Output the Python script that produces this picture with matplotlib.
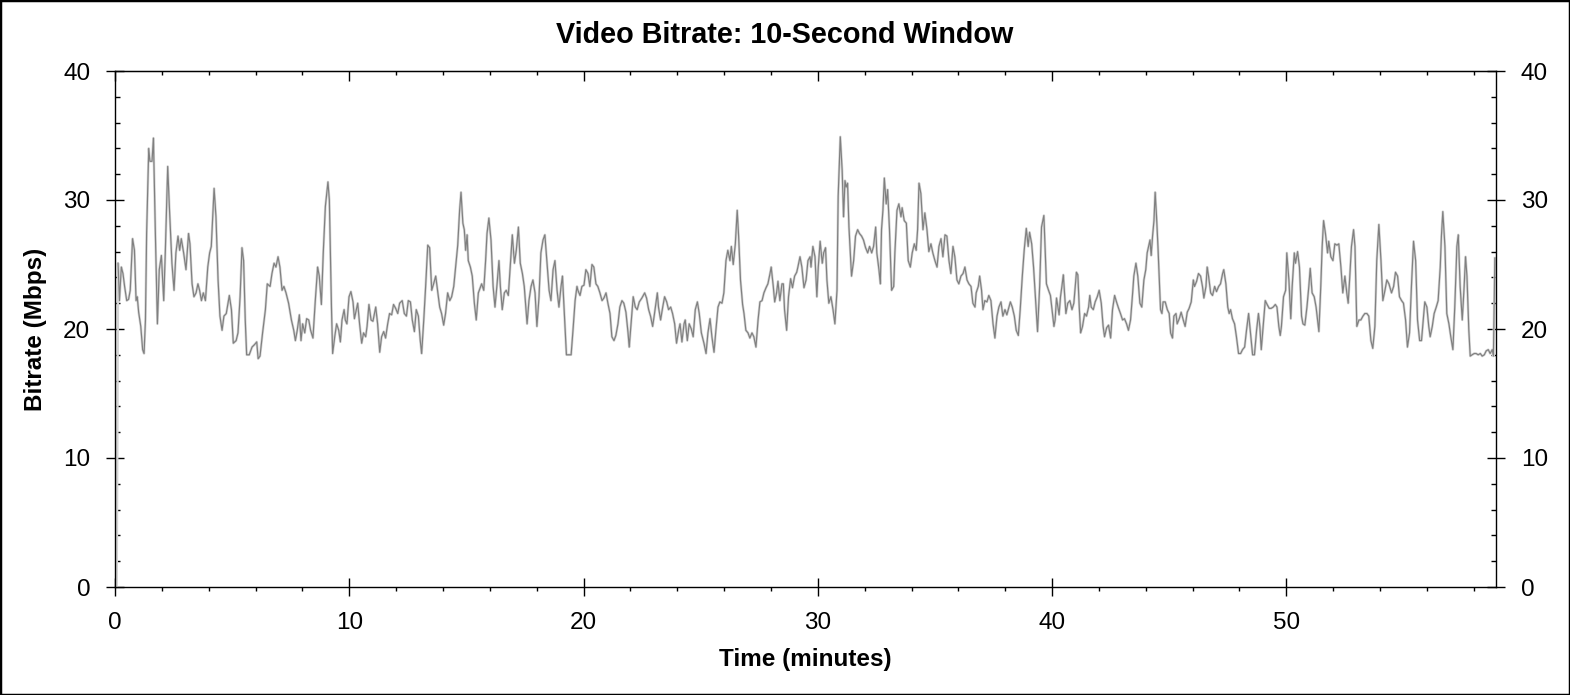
import numpy as np
import matplotlib
matplotlib.use("Agg")
import matplotlib.pyplot as plt
from matplotlib.ticker import MultipleLocator, NullFormatter
from matplotlib.patches import Rectangle

plt.rcParams['font.family'] = ['Liberation Sans', 'DejaVu Sans']

# bitrate trace in six chunks (minutes, Mbps)
min_a = [0.13, 0.19, 0.27, 0.34, 0.41, 0.50, 0.58, 0.65, 0.75, 0.83,
         0.90, 0.95, 1.01, 1.10, 1.18, 1.24, 1.30, 1.35, 1.44, 1.49,
         1.58, 1.64, 1.72, 1.81, 1.89, 1.98, 2.08, 2.15, 2.25, 2.32,
         2.43, 2.52, 2.60, 2.69, 2.76, 2.83, 2.93, 3.03, 3.14, 3.20,
         3.29, 3.37, 3.46, 3.54, 3.61, 3.69, 3.77, 3.86, 3.96, 4.04,
         4.11, 4.23, 4.31, 4.40, 4.48, 4.57, 4.65, 4.75, 4.88, 4.97,
         5.05, 5.17, 5.25, 5.34, 5.42, 5.49, 5.56, 5.62, 5.73, 5.85,
         5.96, 6.05, 6.11, 6.19, 6.30, 6.42, 6.50, 6.62, 6.70, 6.79,
         6.87, 6.96, 7.04, 7.13, 7.21, 7.30, 7.41, 7.53, 7.63, 7.70,
         7.78, 7.87, 7.94, 8.01, 8.10, 8.18, 8.27, 8.35, 8.45, 8.55,
         8.65, 8.72, 8.81, 8.89, 8.98, 9.09, 9.15, 9.24, 9.29, 9.38,
         9.46, 9.55, 9.62, 9.69, 9.78, 9.83, 9.90]
mbps_a = [25.1, 22.2, 24.8, 24.3, 23.3, 22.2, 22.3, 23.0, 27.0, 26.1,
          22.2, 22.5, 21.3, 20.2, 18.4, 18.1, 20.7, 27.4, 34.0, 33.0,
          33.0, 34.8, 27.7, 20.4, 24.6, 25.7, 22.2, 26.1, 32.6, 29.5,
          25.1, 23.0, 25.9, 27.2, 26.1, 27.0, 25.9, 24.6, 27.4, 26.6,
          23.5, 22.5, 22.8, 23.5, 23.0, 22.2, 22.8, 22.2, 24.8, 25.9,
          26.4, 30.9, 28.7, 23.8, 21.0, 19.9, 21.0, 21.2, 22.6, 21.5,
          18.9, 19.1, 19.7, 22.5, 26.3, 25.3, 20.7, 18.0, 18.0, 18.6,
          18.8, 19.0, 17.7, 17.9, 19.7, 21.5, 23.5, 23.3, 24.3, 25.1,
          24.8, 25.6, 24.8, 23.0, 23.3, 22.8, 22.0, 20.7, 19.9, 19.1,
          19.9, 21.1, 19.1, 20.4, 19.7, 20.8, 20.7, 19.9, 19.3, 22.2,
          24.8, 24.1, 21.9, 25.9, 29.5, 31.4, 30.0, 21.7, 18.1, 19.4,
          20.4, 19.9, 19.0, 20.7, 21.5, 20.7, 20.4]

min_b = [9.99, 10.07, 10.16, 10.22, 10.30, 10.36, 10.44, 10.53, 10.61, 10.70,
         10.76, 10.84, 10.93, 11.01, 11.13, 11.21, 11.30, 11.38, 11.47, 11.55,
         11.64, 11.72, 11.81, 11.89, 11.98, 12.07, 12.15, 12.26, 12.35, 12.44,
         12.52, 12.61, 12.69, 12.78, 12.86, 12.95, 13.03, 13.09, 13.18, 13.26,
         13.35, 13.43, 13.52, 13.60, 13.69, 13.77, 13.86, 13.94, 14.03, 14.11,
         14.20, 14.29, 14.37, 14.46, 14.54, 14.63, 14.71, 14.77, 14.85, 14.91,
         14.97, 15.03, 15.08, 15.17, 15.25, 15.34, 15.42, 15.51, 15.59, 15.65,
         15.74, 15.82, 15.88, 15.96, 16.05, 16.14, 16.22, 16.31, 16.39, 16.45,
         16.53, 16.62, 16.70, 16.79, 16.88, 16.96, 17.05, 17.13, 17.22, 17.30,
         17.39, 17.47, 17.59, 17.67, 17.76, 17.84, 17.93, 18.01, 18.10, 18.18,
         18.27, 18.35, 18.44, 18.53, 18.61, 18.70, 18.78, 18.87, 18.95, 19.04,
         19.10, 19.18, 19.27, 19.38, 19.47, 19.55, 19.64, 19.72]
mbps_b = [22.5, 22.9, 22.1, 20.8, 21.5, 22.0, 20.4, 18.9, 19.7, 19.4,
          20.2, 21.9, 20.7, 20.6, 21.7, 20.4, 18.2, 19.4, 19.8, 19.3,
          20.4, 21.2, 21.1, 21.9, 21.6, 21.2, 22.0, 22.2, 21.2, 21.0,
          22.2, 22.1, 20.7, 19.8, 21.5, 21.0, 19.1, 18.1, 20.7, 23.3,
          26.5, 26.3, 23.0, 23.5, 24.1, 23.0, 21.7, 21.2, 20.3, 21.2,
          22.8, 22.2, 22.5, 23.3, 24.8, 26.5, 29.2, 30.6, 28.2, 27.7,
          26.1, 27.3, 25.3, 24.8, 24.1, 22.0, 20.7, 22.8, 23.2, 23.5,
          23.0, 25.3, 27.4, 28.6, 26.9, 23.3, 21.7, 23.5, 25.3, 23.3,
          21.5, 22.8, 23.0, 22.6, 25.1, 27.3, 25.1, 26.1, 27.9, 25.1,
          24.3, 23.3, 20.4, 22.2, 23.3, 23.8, 22.8, 20.2, 22.5, 25.9,
          26.9, 27.3, 25.1, 23.0, 22.2, 24.6, 25.3, 23.0, 21.7, 23.3,
          24.1, 21.2, 18.0, 18.0, 18.0, 19.9, 22.2, 23.3]

min_c = [19.76, 19.85, 19.93, 20.02, 20.10, 20.19, 20.27, 20.36, 20.44, 20.53,
         20.61, 20.70, 20.79, 20.87, 20.96, 21.04, 21.13, 21.21, 21.30, 21.38,
         21.47, 21.55, 21.64, 21.72, 21.81, 21.90, 21.95, 22.04, 22.12, 22.21,
         22.29, 22.38, 22.49, 22.61, 22.69, 22.78, 22.86, 22.95, 23.03, 23.15,
         23.20, 23.29, 23.38, 23.46, 23.55, 23.63, 23.72, 23.80, 23.89, 23.97,
         24.06, 24.12, 24.20, 24.29, 24.34, 24.43, 24.51, 24.60, 24.68, 24.77,
         24.86, 24.94, 25.03, 25.14, 25.23, 25.31, 25.40, 25.48, 25.57, 25.65,
         25.74, 25.82, 25.91, 25.99, 26.08, 26.16, 26.25, 26.31, 26.39, 26.48,
         26.56, 26.62, 26.70, 26.79, 26.85, 26.93, 27.02, 27.10, 27.19, 27.27,
         27.36, 27.45, 27.53, 27.62, 27.70, 27.79, 27.87, 27.96, 28.01, 28.10,
         28.16, 28.24, 28.30, 28.38, 28.47, 28.53, 28.58, 28.67, 28.75, 28.84,
         28.92, 29.01, 29.10, 29.15, 29.24, 29.32, 29.41, 29.50, 29.58, 29.67]
mbps_c = [23.0, 22.6, 23.3, 23.4, 24.6, 24.3, 23.3, 25.0, 24.8, 23.5,
          23.3, 22.8, 22.2, 22.4, 22.8, 22.0, 21.2, 19.4, 19.1, 19.5,
          20.4, 21.7, 22.2, 22.0, 21.3, 19.7, 18.6, 20.7, 22.5, 21.7,
          21.5, 22.1, 22.4, 22.8, 22.4, 21.5, 21.0, 20.2, 21.2, 22.8,
          21.7, 20.7, 21.7, 22.5, 22.1, 21.5, 21.7, 21.2, 20.4, 18.9,
          19.9, 20.4, 19.0, 20.4, 20.7, 19.1, 20.4, 20.0, 19.4, 21.5,
          22.1, 21.2, 19.7, 18.9, 18.1, 19.7, 20.8, 19.4, 18.2, 19.9,
          21.7, 22.1, 22.0, 22.8, 25.3, 26.1, 25.3, 26.4, 25.0, 26.6,
          29.2, 27.2, 23.8, 21.9, 21.2, 19.9, 19.7, 19.3, 19.7, 19.4,
          18.6, 20.7, 22.1, 22.2, 22.8, 23.2, 23.5, 24.3, 24.8, 23.3,
          22.1, 22.8, 23.7, 22.2, 23.5, 23.5, 21.5, 19.9, 22.5, 23.9,
          23.2, 24.1, 24.4, 24.8, 25.6, 24.8, 23.2, 23.8, 25.3, 25.6]

min_d = [29.71, 29.79, 29.88, 29.96, 30.02, 30.10, 30.19, 30.25, 30.33, 30.39,
         30.47, 30.56, 30.65, 30.73, 30.82, 30.87, 30.96, 31.04, 31.10, 31.16,
         31.21, 31.27, 31.33, 31.39, 31.44, 31.53, 31.61, 31.70, 31.78, 31.87,
         31.95, 32.04, 32.13, 32.21, 32.30, 32.38, 32.47, 32.52, 32.61, 32.67,
         32.72, 32.78, 32.84, 32.92, 32.98, 33.06, 33.15, 33.24, 33.29, 33.38,
         33.46, 33.55, 33.60, 33.69, 33.78, 33.86, 33.95, 34.03, 34.12, 34.20,
         34.26, 34.32, 34.40, 34.49, 34.57, 34.66, 34.74, 34.83, 34.91, 35.00,
         35.09, 35.17, 35.26, 35.34, 35.43, 35.51, 35.60, 35.68, 35.77, 35.85,
         35.94, 36.02, 36.11, 36.20, 36.28, 36.37, 36.45, 36.54, 36.62, 36.71,
         36.76, 36.85, 36.91, 36.99, 37.05, 37.13, 37.22, 37.30, 37.39, 37.48,
         37.56, 37.65, 37.73, 37.82, 37.90, 37.99, 38.07, 38.16, 38.22, 38.30,
         38.39, 38.47, 38.56, 38.64, 38.73, 38.81, 38.90, 38.98, 39.04, 39.13,
         39.21, 39.30, 39.38, 39.47, 39.55]
mbps_d = [24.8, 26.4, 25.6, 22.5, 24.8, 26.8, 25.1, 25.9, 26.3, 23.8,
          22.0, 22.5, 21.5, 20.4, 23.0, 30.3, 34.9, 32.3, 28.7, 31.5,
          31.0, 31.3, 27.9, 25.9, 24.1, 25.3, 27.2, 27.7, 27.4, 27.2,
          26.9, 26.3, 25.9, 26.4, 25.9, 26.4, 27.9, 25.9, 24.6, 23.5,
          27.7, 29.2, 31.7, 29.7, 30.8, 27.7, 23.0, 23.3, 25.9, 29.2,
          29.7, 28.7, 29.4, 28.4, 28.2, 25.3, 24.8, 25.9, 26.6, 26.1,
          27.7, 31.3, 30.5, 27.7, 29.0, 27.7, 26.0, 26.6, 25.9, 25.3,
          24.8, 26.4, 27.0, 25.6, 27.3, 27.2, 25.3, 24.3, 26.4, 25.6,
          23.8, 23.5, 24.1, 24.3, 24.8, 23.8, 23.5, 23.3, 22.0, 21.7,
          22.8, 23.3, 24.1, 23.0, 21.5, 22.2, 22.1, 22.6, 22.2, 20.4,
          19.3, 21.0, 21.7, 22.1, 21.0, 21.5, 21.1, 21.7, 22.1, 21.7,
          21.0, 19.9, 19.5, 21.5, 24.1, 26.1, 27.8, 26.4, 27.5, 26.6,
          24.8, 22.2, 19.8, 23.3, 27.9]

min_e = [39.65, 39.71, 39.76, 39.85, 39.93, 40.02, 40.08, 40.13, 40.19, 40.25,
         40.30, 40.36, 40.42, 40.48, 40.53, 40.59, 40.67, 40.76, 40.85, 40.93,
         40.99, 41.04, 41.10, 41.16, 41.22, 41.30, 41.39, 41.47, 41.56, 41.61,
         41.67, 41.76, 41.84, 41.93, 42.01, 42.10, 42.18, 42.24, 42.33, 42.41,
         42.50, 42.58, 42.67, 42.75, 42.84, 42.92, 43.01, 43.09, 43.18, 43.26,
         43.35, 43.44, 43.49, 43.58, 43.66, 43.75, 43.83, 43.92, 44.00, 44.06,
         44.12, 44.18, 44.23, 44.29, 44.35, 44.40, 44.46, 44.52, 44.57, 44.63,
         44.69, 44.74, 44.83, 44.92, 45.00, 45.06, 45.14, 45.20, 45.29, 45.34,
         45.43, 45.51, 45.60, 45.68, 45.77, 45.85, 45.94, 46.03, 46.08, 46.17,
         46.25, 46.34, 46.42, 46.48, 46.57, 46.62, 46.68, 46.77, 46.85, 46.94,
         47.02, 47.11, 47.19, 47.28, 47.33, 47.42, 47.50, 47.56, 47.62, 47.70,
         47.79, 47.87, 47.96, 48.05, 48.13, 48.22, 48.30, 48.39, 48.47, 48.56,
         48.64, 48.73, 48.81, 48.87, 48.93, 49.01, 49.10, 49.18, 49.27, 49.35,
         49.44, 49.53]
mbps_e = [28.8, 25.9, 23.5, 23.0, 22.6, 21.2, 20.2, 20.7, 22.4, 21.7,
          21.1, 22.5, 23.3, 24.2, 22.8, 21.2, 22.0, 22.2, 21.5, 22.0,
          23.3, 24.4, 24.2, 21.7, 19.7, 20.2, 21.2, 21.0, 21.7, 22.6,
          21.7, 21.5, 22.1, 22.5, 23.0, 22.0, 20.2, 19.4, 20.1, 20.3,
          19.3, 21.5, 22.6, 22.1, 21.6, 21.2, 20.7, 20.8, 20.4, 19.9,
          20.7, 22.8, 24.1, 25.1, 24.1, 22.0, 21.7, 23.8, 24.6, 25.9,
          26.4, 26.9, 25.7, 27.2, 28.4, 30.6, 28.7, 26.4, 24.1, 21.5,
          21.2, 22.1, 22.1, 21.5, 21.2, 19.7, 19.3, 21.0, 21.2, 20.4,
          20.8, 21.3, 20.7, 20.2, 21.3, 21.6, 22.1, 23.8, 23.3, 23.7,
          24.3, 24.1, 23.3, 22.4, 23.3, 24.8, 24.1, 22.8, 22.6, 23.3,
          22.9, 23.3, 23.5, 24.3, 24.6, 23.5, 21.7, 21.2, 21.5, 20.8,
          20.4, 19.4, 18.1, 18.1, 18.4, 18.6, 19.9, 21.2, 19.7, 18.0,
          18.0, 19.9, 21.2, 20.2, 18.4, 20.2, 22.2, 21.9, 21.6, 21.6,
          21.7, 21.9]

min_f = [49.60, 49.68, 49.74, 49.79, 49.88, 49.97, 50.02, 50.11, 50.19, 50.25,
         50.34, 50.39, 50.48, 50.56, 50.65, 50.71, 50.79, 50.88, 50.96, 51.02,
         51.10, 51.19, 51.27, 51.39, 51.47, 51.53, 51.59, 51.67, 51.76, 51.81,
         51.90, 51.99, 52.07, 52.16, 52.24, 52.33, 52.41, 52.50, 52.58, 52.64,
         52.70, 52.78, 52.87, 52.93, 53.01, 53.10, 53.18, 53.27, 53.35, 53.44,
         53.52, 53.61, 53.69, 53.78, 53.86, 53.95, 54.04, 54.12, 54.21, 54.29,
         54.38, 54.49, 54.58, 54.66, 54.75, 54.83, 54.92, 55.00, 55.09, 55.17,
         55.26, 55.34, 55.43, 55.52, 55.60, 55.69, 55.77, 55.86, 55.91, 56.00,
         56.08, 56.14, 56.23, 56.31, 56.40, 56.48, 56.57, 56.62, 56.68, 56.77,
         56.85, 56.94, 57.02, 57.11, 57.19, 57.28, 57.34, 57.42, 57.51, 57.59,
         57.65, 57.71, 57.79, 57.85, 57.93, 58.02, 58.10, 58.19, 58.28, 58.36,
         58.45, 58.53, 58.62, 58.70, 58.79, 58.84, 58.90]
mbps_f = [21.7, 20.2, 19.5, 20.2, 22.5, 23.0, 25.9, 23.8, 20.8, 23.3,
          25.9, 25.1, 26.0, 24.8, 21.0, 20.4, 20.3, 21.7, 23.3, 24.7,
          22.8, 22.5, 21.7, 19.8, 23.3, 26.4, 28.4, 27.4, 25.9, 26.8,
          25.6, 25.3, 26.6, 26.5, 26.6, 24.8, 22.8, 24.1, 22.8, 22.0,
          23.8, 26.4, 27.7, 26.4, 20.2, 20.7, 20.7, 21.0, 21.2, 21.2,
          21.0, 19.1, 18.5, 20.2, 25.3, 28.1, 25.3, 22.2, 23.0, 23.8,
          23.5, 22.8, 23.3, 24.4, 24.1, 22.5, 22.2, 22.0, 20.7, 18.6,
          19.7, 23.3, 26.8, 25.3, 20.7, 19.1, 19.1, 21.0, 22.1, 21.7,
          20.2, 19.4, 20.2, 21.2, 21.7, 22.2, 24.8, 27.2, 29.1, 26.4,
          21.2, 20.4, 19.4, 18.4, 21.7, 26.4, 27.3, 23.3, 20.7, 23.3,
          25.6, 24.1, 19.9, 17.9, 18.0, 18.1, 18.1, 18.0, 18.1, 17.9,
          18.0, 18.3, 18.4, 18.1, 18.4, 17.9, 25.5]

# faint companion trace starts at zero before the first window fills
start_min = [0.07]
start_mbps = [0.0]

minutes = np.array(min_a + min_b + min_c + min_d + min_e + min_f)
mbps = np.array(mbps_a + mbps_b + mbps_c + mbps_d + mbps_e + mbps_f)

fig = plt.figure(figsize=(15.7, 6.95), dpi=100)
ax = fig.add_axes([115 / 1570, 1 - 587 / 695, 1381 / 1570, 516 / 695])

ax.plot(np.concatenate([start_min, minutes]), np.concatenate([start_mbps, mbps]),
        color='#d4d4d4', lw=1.8, solid_joinstyle='round')
ax.plot(minutes, mbps, color='#808080', lw=0.85)

ax.set_xlim(0, 58.95)
ax.set_ylim(0, 40)

ax.xaxis.set_major_locator(MultipleLocator(10))
ax.xaxis.set_minor_locator(MultipleLocator(2))
ax.yaxis.set_major_locator(MultipleLocator(10))
ax.yaxis.set_minor_locator(MultipleLocator(2))

ax.tick_params(axis='x', which='major', direction='inout', length=13.5, width=1,
               pad=11, labelsize=17.5, top=False)
ax.tick_params(axis='x', which='minor', direction='out', length=3.2, width=1, top=False)
ax.tick_params(axis='y', which='major', direction='inout', length=13.5, width=1,
               pad=11, labelsize=17.5, right=True, labelright=True)
ax.tick_params(axis='y', which='minor', direction='in', length=3.4, width=1, right=True)

top = ax.secondary_xaxis('top')
top.xaxis.set_major_locator(MultipleLocator(10))
top.xaxis.set_minor_locator(MultipleLocator(2))
top.xaxis.set_major_formatter(NullFormatter())
top.tick_params(which='major', direction='in', length=7.2, width=1)
top.tick_params(which='minor', direction='in', length=3, width=1)

for s in ax.spines.values():
    s.set_linewidth(1)

ax.set_xlabel('Time (minutes)', fontsize=17.5, fontweight='bold', labelpad=10)
ax.set_ylabel('Bitrate (Mbps)', fontsize=17.5, fontweight='bold', labelpad=11.5)
fig.text(0.5, 1 - 35 / 695, 'Video Bitrate: 10-Second Window', ha='center', va='center',
         fontsize=20.7, fontweight='bold')

fig.patches.append(Rectangle((0, 0), 1, 1, transform=fig.transFigure, fill=False,
                             ec='black', lw=2.5))

fig.savefig('out.png', dpi=100)
